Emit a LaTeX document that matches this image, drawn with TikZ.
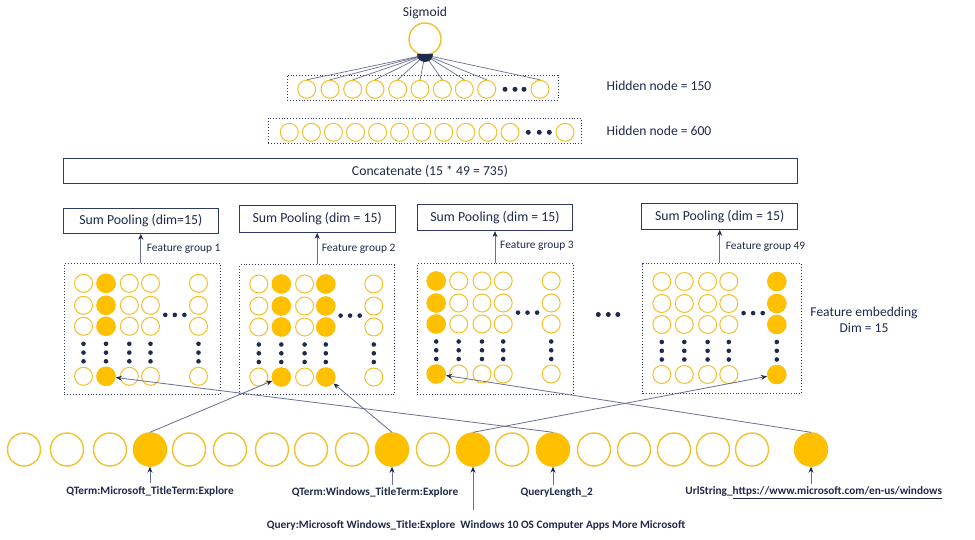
\documentclass[tikz,border=0pt]{standalone}
\usepackage{fontspec}
\setmainfont{Carlito}
\usetikzlibrary{arrows.meta}
\definecolor{gold}{HTML}{FFC000}
\definecolor{goldline}{HTML}{F2C12E}
\definecolor{navy}{HTML}{1F2A4A}
\definecolor{boxnavy}{HTML}{2E3A66}
\definecolor{wirec}{HTML}{6A7090}
\newcommand\embgrid[4]{%
  \foreach \cx [count=\c] in {19.5,42,65.3,86.5,134.5}{
    \foreach \ry [count=\r] in {19,41,62,112}{
      \node[unit] (#1-\c-\r) at (#2+\cx,#3+\ry) {};
    }
    \foreach \dy [count=\k] in {79.5,88.3,97}{
      \node[dot] (#1-v-\c-\k) at (#2+\cx,#3+\dy) {};
    }
  }
  \foreach \dx [count=\k] in {101.3,110.8,120.4}{\node[dot] (#1-h-\k) at (#2+\dx,#3+50.6) {};}
  \foreach \c in {#4}{
    \pgfmathsetmacro\cx{{19.5,42,65.3,86.5,134.5}[\c-1]}
    \foreach \ry [count=\r] in {19,41,62,112}{
      \node[hot] (#1-\c-\r) at (#2+\cx,#3+\ry) {};
    }
  }
}
\begin{document}
\begin{tikzpicture}[x=1pt,y=-1pt,
  txt/.style={text=navy, font=\fontsize{13.6}{15}\selectfont, inner sep=0pt},
  small/.style={text=navy, font=\fontsize{11.4}{13}\selectfont, inner sep=0pt},
  blab/.style={text=navy, font=\bfseries\fontsize{11.3}{13}\selectfont, inner sep=0pt},
  unit/.style={circle, draw=goldline, line width=1pt, minimum size=18pt, inner sep=0pt},
  hot/.style={circle, fill=gold, minimum size=19.5pt, inner sep=0pt},
  big/.style={circle, draw=goldline, line width=1.4pt, minimum size=32pt, inner sep=0pt},
  bighot/.style={circle, fill=gold, minimum size=34pt, inner sep=0pt},
  dotbox/.style={draw=boxnavy, dotted, line width=0.9pt, inner sep=0pt},
  solidbox/.style={draw=boxnavy, line width=1pt, inner sep=0pt, text=navy, font=\fontsize{13.8}{15}\selectfont},
  dot/.style={circle, fill=navy, minimum size=4.6pt, inner sep=0pt},
  fan/.style={draw=wirec, line width=0.7pt},
  wire/.style={draw=wirec, line width=0.8pt, -{Stealth[length=6pt,width=5pt,color=navy]}},
]
\useasboundingbox (0,0) rectangle (975,540);
\fill[white] (0,0) rectangle (975,540);

% ---- sigmoid
\node[txt] (sigl) at (425,13) {Sigmoid};
\node[big] (sig) at (425,39) {};
\coordinate (hub) at (425,55);

% ---- hidden 150
\node[dotbox, minimum width=271pt, minimum height=25pt] (hb1) at (422.5,87.5) {};
\foreach \x [count=\i] in {306.7,330,352.7,375,397.7,420,442.3,464.3,486.7,540}
  \node[unit] (h1-\i) at (\x,89.3) {};
\foreach \x [count=\i] in {505,515,524}
  \node[dot, minimum size=5pt] (h1d-\i) at (\x,89.3) {};
\foreach \i in {1,...,10} \draw[fan] (hub) -- (h1-\i.north);
\fill[navy] (417,54) arc[start angle=180,end angle=0,radius=8] -- cycle;
\node[txt, anchor=west] (hl1) at (606.5,86) {Hidden node = 150};

% ---- hidden 600
\node[dotbox, minimum width=313.7pt, minimum height=25pt] (hb2) at (424.9,130.8) {};
\foreach \x [count=\i] in {289.3,311.4,333.4,355.5,377.6,399.6,421.7,443.8,465.8,487.9,510,565}
  \node[unit] (h2-\i) at (\x,132.3) {};
\foreach \x [count=\i] in {528.3,539.3,549.3}
  \node[dot, minimum size=5pt] (h2d-\i) at (\x,132.3) {};
\node[txt, anchor=west] (hl2) at (606.5,131) {Hidden node = 600};

% ---- concatenate
\node[solidbox, font=\fontsize{13.7}{15}\selectfont, minimum width=734pt, minimum height=25pt] (cat) at (430,171.5) {Concatenate (15 * 49 = 735)};

% ---- sum pooling
\node[solidbox, minimum width=155pt, minimum height=25pt] (sp1) at (140.8,220.8) {Sum Pooling (dim=15)};
\node[solidbox, minimum width=155.7pt, minimum height=27pt] (sp2) at (317.2,218.8) {Sum Pooling (dim = 15)};
\node[solidbox, minimum width=155.4pt, minimum height=25.7pt] (sp3) at (495,217.8) {Sum Pooling (dim = 15)};
\node[solidbox, minimum width=156pt, minimum height=26pt] (sp4) at (719.7,216.3) {Sum Pooling (dim = 15)};

% ---- embedding boxes
\node[dotbox, minimum width=156pt, minimum height=130.7pt, anchor=north west] (e1) at (64,263.3) {};
\node[dotbox, minimum width=155pt, minimum height=129.7pt, anchor=north west] (e2) at (239.3,264.3) {};
\node[dotbox, minimum width=156pt, minimum height=130.7pt, anchor=north west] (e3) at (416.7,263.3) {};
\node[dotbox, minimum width=158.7pt, minimum height=130pt, anchor=north west] (e4) at (642.3,263.3) {};

\embgrid{g1}{64}{264.3}{2}
\embgrid{g2}{239.3}{265}{2,4}
\embgrid{g3}{416.7}{262}{1}
\embgrid{g4}{642.3}{262.5}{5}

\foreach \x [count=\i] in {598.3,608.3,617.8}
  \node[dot, minimum size=5pt] (md-\i) at (\x,314.5) {};

\node[txt, font=\fontsize{13.5}{16}\selectfont, align=center] (fe) at (864,320) {Feature embedding\\Dim = 15};

% ---- group arrows
\draw[wire] (sp1.south |- e1.north) -- (sp1.south);
\draw[wire] (sp2.south |- e2.north) -- (sp2.south);
\draw[wire] (sp3.south |- e3.north) -- (sp3.south);
\draw[wire] (sp4.south |- e4.north) -- (sp4.south);
\node[small, anchor=west] (fg1) at (146.7,249) {Feature group 1};
\node[small, anchor=west] (fg2) at (321.7,249) {Feature group 2};
\node[small, anchor=west] (fg3) at (500,246) {Feature group 3};
\node[small, anchor=west] (fg4) at (725.7,246.5) {Feature group 49};

% ---- input row
\foreach \x [count=\i] in {24,67,110,150,189,230,272,311,352,392,433,473,512,553,594,634,674,713,752,811}
  \node[big, minimum size=33pt] (b\i) at (\x,449.5) {};
\foreach \i/\x in {4/150,10/392,12/473,14/553,20/811}
  \node[bighot] (b\i) at (\x,449.5) {};

% ---- labels
\node[blab] (l1) at (150,491.5) {QTerm:Microsoft\_TitleTerm:Explore};
\node[blab] (l2) at (375,492.7) {QTerm:Windows\_TitleTerm:Explore};
\node[blab] (l3) at (476,525.7) {Query:Microsoft Windows\_Title:Explore\ \ Windows 10 OS Computer Apps More Microsoft};
\node[blab] (l4) at (556.7,492.7) {QueryLength\_2};
\node[blab] (l5) at (813.7,492.7) {UrlString\_\underline{https://www.microsoft.com/en-us/windows}};

\draw[wire, shorten <=3pt] (l1.north -| b4.south) -- (b4.south);
\draw[wire, shorten <=3pt] (l2.north -| b10.south) -- (b10.south);
\draw[wire, shorten <=11pt] (l3.north -| b12.south) -- (b12.south);
\draw[wire, shorten <=3pt] (l4.north -| b14.south) -- (b14.south);
\draw[wire, shorten <=3pt] (l5.north -| b20.south) -- (b20.south);

% ---- long connectors
\draw[wire] (b4.north) -- (g2-2-4);
\draw[wire] (b10.north) -- (g2-4-4);
\draw[wire] (b12.north) -- (g4-5-4);
\draw[wire] (b14.north) -- (g1-2-4);
\draw[wire] (b20.north) -- (g3-1-4);
\end{tikzpicture}
\end{document}
